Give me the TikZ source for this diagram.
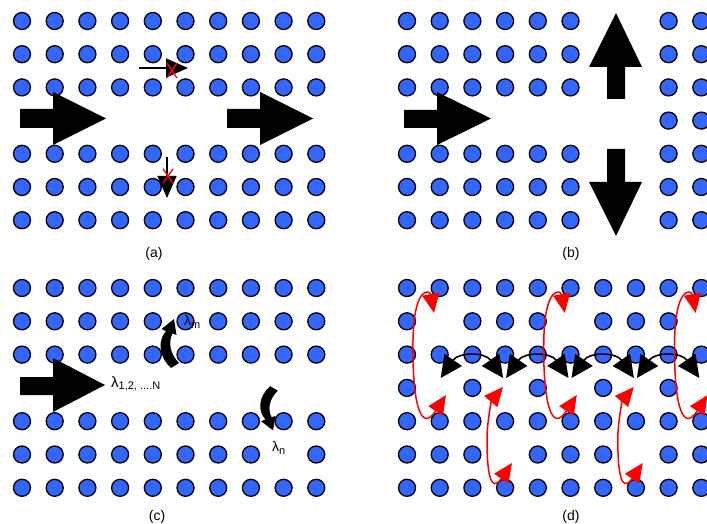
\documentclass[tikz,border=0pt]{standalone}
\usepackage{fontspec}
\setmainfont{Liberation Sans}
\usetikzlibrary{arrows.meta}
\definecolor{dotblue}{RGB}{51,102,255}
\newcommand{\curlshape}{%
  (-1,-47) -- (1.5,-31) -- (-2.5,-32.5)
  .. controls (-7,-24) and (-5,-12) .. (4,-3)
  -- (-4,2)
  .. controls (-17,-10) and (-17,-26) .. (-9,-35)
  -- (-13.5,-37) -- cycle}
\begin{document}
\begin{tikzpicture}[x=1pt,y=-1pt,
  dot/.style={fill=dotblue,draw=black,line width=1.3pt},
  bigarrow/.style={fill=black},
  thinarrow/.style={line width=1.2pt,-{Triangle[length=22pt,width=19pt]}},
  redx/.style={draw=red,line width=1.3pt},
  blackarc/.style={line width=1.6pt,{Triangle[length=22pt,width=21pt]}-{Triangle[length=22pt,width=21pt]}},
  redarc/.style={draw=red,line width=1.5pt,{Triangle[length=19pt,width=17pt]}-{Triangle[length=19pt,width=17pt]},red},
  caption/.style={font=\fontsize{14}{16}\selectfont,inner sep=0pt}]
\useasboundingbox (0,0) rectangle (707,524);
% ---------------- panel (a)
\foreach \j in {1,2,3,5,6,7}
  \foreach \i in {1,...,10}
    \draw[dot] ({22+32.7*(\i-1)},{21+33.2*(\j-1)}) circle (8.5pt);
\fill[bigarrow] (20,109) -- (53,109) -- (53,92) -- (106,118.5) -- (53,145) -- (53,128) -- (20,128) -- cycle;
\fill[bigarrow] (227,109) -- (260,109) -- (260,92) -- (313,118.5) -- (260,145) -- (260,128) -- (227,128) -- cycle;
\coordinate (ha) at (139,68);
\coordinate (hb) at (188,68);
\draw[thinarrow] (ha) -- (hb);
\coordinate (va) at (167,157);
\coordinate (vb) at (167,198);
\draw[thinarrow] (va) -- (vb);
\draw[redx] (167,63) -- (177,78) (177,63) -- (167,78);
\draw[redx] (163,169) -- (173,183) (173,169) -- (163,183);
\node[caption] (capa) at (154,254) {(a)};
% ---------------- panel (b)
\foreach \j in {1,2,3,5,6,7}
  \foreach \i in {1,...,6}
    \draw[dot] ({407+32.7*(\i-1)},{21+33.2*(\j-1)}) circle (8.5pt);
\foreach \j in {1,...,7}
  \foreach \i in {9,10}
    \draw[dot] ({407+32.7*(\i-1)},{21+33.2*(\j-1)}) circle (8.5pt);
\fill[bigarrow] (404,110) -- (437,110) -- (437,92) -- (491,118.5) -- (437,145) -- (437,128) -- (404,128) -- cycle;
\fill[bigarrow] (616,13) -- (642,67) -- (625,67) -- (625,99) -- (607,99) -- (607,67) -- (589,67) -- cycle;
\fill[bigarrow] (616,236) -- (642,182) -- (625,182) -- (625,149) -- (607,149) -- (607,182) -- (589,182) -- cycle;
\node[caption] (capb) at (571,254) {(b)};
% ---------------- panel (c)
\foreach \j/\cols in {1/{1,...,10},2/{1,...,10},3/{1,...,10},5/{1,...,10},6/{1,2,3,4,5,6,7,8,10},7/{1,...,10}}
  \foreach \i in \cols
    \draw[dot] ({22+32.7*(\i-1)},{288+33.3*(\j-1)}) circle (8.5pt);
\fill[bigarrow] (20,377) -- (53,377) -- (53,358) -- (105,385) -- (53,412) -- (53,395) -- (20,395) -- cycle;
\node[anchor=west,inner sep=0pt] (lam) at (111,384) {\fontsize{15}{17}\selectfont λ\raisebox{-2.5pt}{\fontsize{11}{13}\selectfont 1,2, ....N}};
\begin{scope}[shift={(175,366)}]
  \fill \curlshape;
\end{scope}
\node[anchor=west,inner sep=0pt] (lamm) at (184,322) {\fontsize{14}{16}\selectfont λ\raisebox{-2.5pt}{\fontsize{11}{13}\selectfont m}};
\begin{scope}[shift={(274,388)},xscale=0.95,yscale=-0.9]
  \fill \curlshape;
\end{scope}
\node[anchor=west,inner sep=0pt] (lamn) at (272,448) {\fontsize{14}{16}\selectfont λ\raisebox{-2.5pt}{\fontsize{11}{13}\selectfont n}};
\node[caption] (capc) at (157,517) {(c)};
% ---------------- panel (d)
\foreach \j/\cols in {1/{1,...,10},2/{1,3,4,5,7,8,9},3/{1,...,10},4/{1,3,5,7,9},5/{1,...,10},6/{1,2,3,5,6,7,9,10},7/{1,...,10}}
  \foreach \i in \cols
    \draw[dot] ({407+32.7*(\i-1)},{288+33.3*(\j-1)}) circle (8.5pt);
\foreach \k in {0,1,2,3} {
  \draw[blackarc] ({440.7+65.4*\k},378) .. controls ({458.7+65.4*\k},352) and ({485.1+65.4*\k},352) .. ({503.1+65.4*\k},378);
}
\foreach \s in {0,130.8,261.6} {
  \draw[redarc] ({434+\s},313) .. controls ({430+\s},290) and ({414+\s},285) .. ({413+\s},340)
     .. controls ({412+\s},400) and ({420+\s},435) .. ({446+\s},395);
}
\foreach \s in {0,130.8} {
  \draw[redarc] ({503+\s},387) .. controls ({492+\s},400) and ({487+\s},420) .. ({487+\s},440)
     .. controls ({487+\s},470) and ({490+\s},495) .. ({512+\s},463);
}
\node[caption] (capd) at (571,517) {(d)};
\end{tikzpicture}
\end{document}
